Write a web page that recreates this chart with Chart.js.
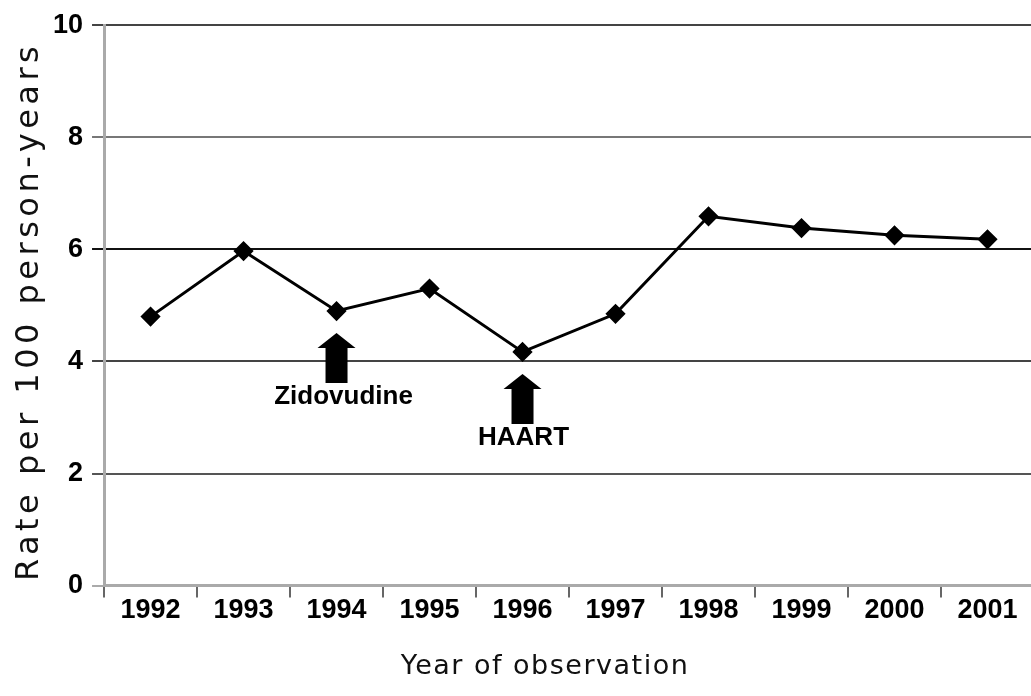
<!DOCTYPE html>
<html>
<head>
<meta charset="utf-8">
<script src="https://cdn.jsdelivr.net/npm/chart.js@4"></script>
<style>
  html, body { margin: 0; padding: 0; background: #fff; overflow: hidden; }
  #rateChart { display: block; }
</style>
</head>
<body>
<canvas id="rateChart" width="1045" height="696"></canvas>
<script>
// data
const years = ['1992', '1993', '1994', '1995', '1996', '1997', '1998', '1999', '2000', '2001'];
const rates = [4.8, 5.97, 4.9, 5.3, 4.17, 4.85, 6.59, 6.38, 6.25, 6.18];
const yTicks = [0, 2, 4, 6, 8, 10];
const markerYears = ['1994', '1996'];
const markerLabels = ['Zidovudine', 'HAART'];
const xTitle = 'Year of observation';
const yTitle = 'Rate per 100 person-years';

// gridline shades per tick (scan looks uneven)
const gridShades = ['#aaaaaa', '#555555', '#444444', '#111111', '#777777', '#444444'];

const narrowBold = '"Liberation Sans Narrow", "Liberation Sans", sans-serif';

// block arrows under the line for treatment milestones
const arrowPlugin = {
  id: 'arrows',
  afterDatasetsDraw(chart) {
    const ctx = chart.ctx;
    const xs = chart.scales.x;
    const ys = chart.scales.y;
    ctx.save();
    markerYears.forEach((yr, i) => {
      const idx = years.indexOf(yr);
      const x = xs.getPixelForValue(idx);
      const top = ys.getPixelForValue(rates[idx]) + 22;
      ctx.fillStyle = '#000';
      ctx.beginPath();
      ctx.moveTo(x, top);
      ctx.lineTo(x + 19, top + 15);
      ctx.lineTo(x + 11, top + 15);
      ctx.lineTo(x + 11, top + 50);
      ctx.lineTo(x - 11, top + 50);
      ctx.lineTo(x - 11, top + 15);
      ctx.lineTo(x - 19, top + 15);
      ctx.closePath();
      ctx.fill();
      ctx.font = 'bold 26px ' + narrowBold;
      ctx.textAlign = 'center';
      ctx.textBaseline = 'middle';
      ctx.fillText(markerLabels[i], x + (i === 0 ? 7 : 1), top + 64);
    });
    ctx.restore();
  }
};

// axis titles drawn by hand so the wide letter spacing can be matched
const titlePlugin = {
  id: 'axisTitles',
  afterDraw(chart) {
    const ctx = chart.ctx;
    const area = chart.chartArea;
    ctx.save();
    ctx.fillStyle = '#111';
    ctx.textAlign = 'center';
    ctx.textBaseline = 'middle';
    ctx.font = '27px "DejaVu Sans", sans-serif';
    ctx.letterSpacing = '1.5px';
    ctx.fillText(xTitle, 545, 667);
    ctx.translate(30, (area.top + area.bottom) / 2 + 6);
    ctx.rotate(-Math.PI / 2);
    ctx.font = '32px "DejaVu Sans", sans-serif';
    ctx.letterSpacing = '4.5px';
    ctx.fillText(yTitle, 0, 0);
    ctx.restore();
  }
};

new Chart(document.getElementById('rateChart'), {
  type: 'line',
  data: {
    labels: years,
    datasets: [{
      data: rates,
      borderColor: '#000',
      backgroundColor: '#000',
      borderWidth: 3,
      pointStyle: 'rectRot',
      pointRadius: 8,
      pointHoverRadius: 8,
      tension: 0
    }]
  },
  options: {
    responsive: false,
    animation: false,
    layout: { padding: { top: 13, right: 0, left: 44, bottom: 72 } },
    plugins: {
      legend: { display: false },
      tooltip: { enabled: false }
    },
    scales: {
      x: {
        offset: true,
        grid: {
          offset: true,
          drawOnChartArea: false,
          drawTicks: true,
          tickLength: 12,
          color: '#666',
          lineWidth: 2
        },
        border: { color: '#aaaaaa', width: 3 },
        ticks: {
          color: '#000',
          padding: -3,
          font: { family: narrowBold, size: 27, weight: 'bold' }
        }
      },
      y: {
        min: 0,
        max: 10,
        afterBuildTicks(scale) {
          scale.ticks = yTicks.map(v => ({ value: v }));
        },
        grid: {
          color: ctx => gridShades[ctx.index] || '#555',
          lineWidth: 2,
          tickLength: 12
        },
        border: { color: '#aaaaaa', width: 3 },
        ticks: {
          color: '#000',
          padding: 9,
          font: { family: narrowBold, size: 27, weight: 'bold' }
        }
      }
    }
  },
  plugins: [arrowPlugin, titlePlugin]
});
</script>
</body>
</html>
